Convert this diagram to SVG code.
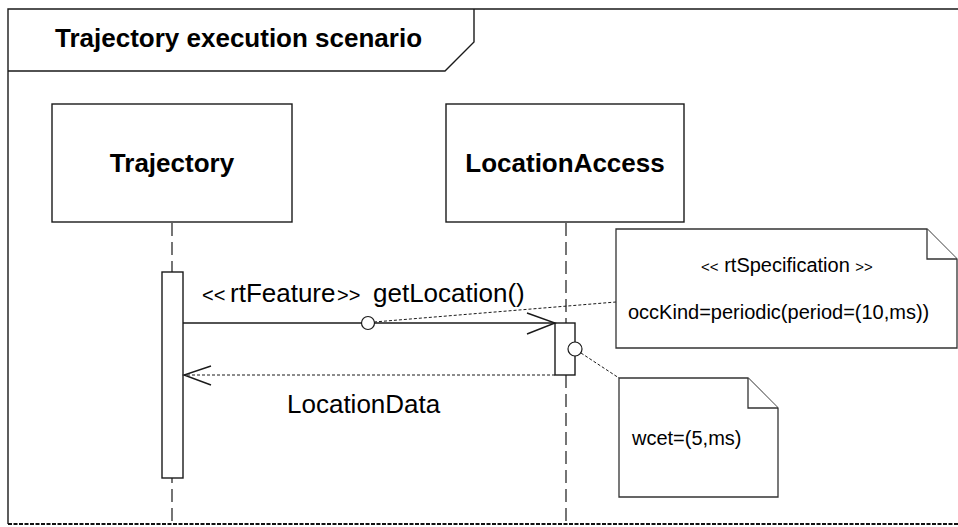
<svg xmlns="http://www.w3.org/2000/svg" width="958" height="527" viewBox="0 0 958 527">
<style>
.ln{stroke:#1a1a1a;stroke-width:1.4;fill:none}
.box{stroke:#1a1a1a;stroke-width:1.4;fill:#fff}
.note{stroke:#333;stroke-width:1.3;fill:#fff}
.life{stroke:#1a1a1a;stroke-width:1.2;stroke-dasharray:13,6;fill:none}
.dash{stroke:#1a1a1a;stroke-width:1;stroke-dasharray:3,2;fill:none}
.t{font-family:"Liberation Sans",Arial,sans-serif;fill:#000}
.b{font-weight:bold;font-size:26px}
.m{font-size:26px}
.n{font-size:20px}
</style>
<rect x="0" y="0" width="958" height="527" fill="#fff"/>
<g id="frame">
<path class="ln" d="M8,524 V9 H958"/>
<path class="ln" d="M8,71 H445 L474,42 V9"/>
<line x1="8" y1="524" x2="958" y2="524" stroke="#111" stroke-width="2" stroke-dasharray="4,1.5"/>
<text class="t b" x="55" y="47">Trajectory execution scenario</text>
</g>
<g id="lifelines">
<line class="life" x1="172" y1="223" x2="172" y2="524"/>
<line class="life" x1="566" y1="223" x2="566" y2="524"/>
</g>
<g id="trajectory">
<rect class="box" x="52" y="104" width="240" height="118"/>
<text class="t b" x="172" y="172" text-anchor="middle">Trajectory</text>
<rect class="box" x="162" y="272" width="21" height="206"/>
</g>
<g id="locationaccess">
<rect class="box" x="446" y="104" width="238" height="118"/>
<text class="t b" x="565" y="172" text-anchor="middle">LocationAccess</text>
<rect class="box" x="555" y="323" width="20" height="52"/>
</g>
<g id="connectors">
<line class="ln" x1="183" y1="323" x2="555" y2="323"/>
<path class="ln" d="M527,313 L555,323 L527,334"/>
<line class="dash" x1="555" y1="375" x2="184" y2="375"/>
<path class="ln" d="M211,366 L184,375 L211,385"/>
<line class="dash" x1="374" y1="322" x2="616" y2="302"/>
<line class="dash" x1="581" y1="353" x2="619" y2="378"/>
<circle cx="368" cy="323" r="6.5" fill="#fff" stroke="#1a1a1a" stroke-width="1.2"/>
<circle cx="575" cy="349" r="7" fill="#fff" stroke="#1a1a1a" stroke-width="1.2"/>
<text class="t" y="302"><tspan x="202" font-size="20">&lt;&lt;</tspan><tspan x="230" font-size="26">rtFeature</tspan><tspan x="337" font-size="20">&gt;&gt;</tspan><tspan x="373" font-size="26">getLocation()</tspan></text>
<text class="t m" x="287" y="413">LocationData</text>
</g>
<g id="note-rtspec">
<path class="note" d="M616,229 H927 L957,259 V348 H616 Z"/>
<path class="note" d="M927,229 V259 H957"/>
<text class="t n" x="787" y="272" text-anchor="middle"><tspan font-size="15">&lt;&lt;</tspan> rtSpecification <tspan font-size="15">&gt;&gt;</tspan></text>
<text class="t n" x="628" y="319">occKind=periodic(period=(10,ms))</text>
</g>
<g id="note-wcet">
<path class="note" d="M619,378 H748 L778,408 V497 H619 Z"/>
<path class="note" d="M748,378 V408 H778"/>
<text class="t n" x="632" y="445">wcet=(5,ms)</text>
</g>
</svg>
